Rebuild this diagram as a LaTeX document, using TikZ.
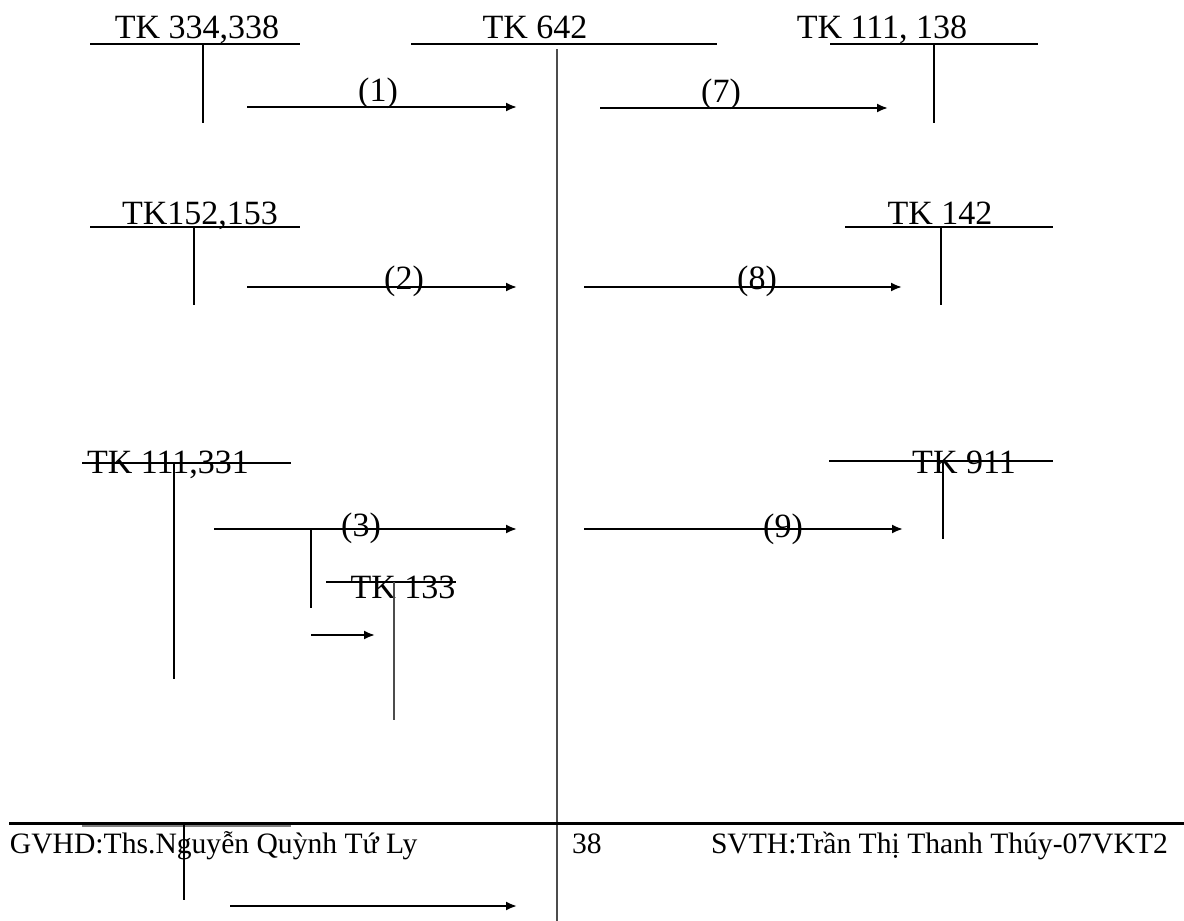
\documentclass[tikz,border=0pt]{standalone}
\usepackage{fontspec}
\setmainfont{Liberation Serif}
\usepackage{tikz}
\usetikzlibrary{arrows.meta}

\begin{document}
\begin{tikzpicture}[x=0.5pt, y=-0.5pt, line width=1pt, >={Latex[length=5.5pt,width=4.5pt]},
    acct/.style={font=\fontsize{17}{20}\selectfont, inner sep=0pt, anchor=base},
    num/.style={font=\fontsize{17}{20}\selectfont, inner sep=0pt, anchor=base},
    foot/.style={font=\fontsize{14.8}{18}\selectfont, inner sep=0pt, anchor=base west}]
    \useasboundingbox (0,0) rectangle (1184,921);
    % account names
    \node[acct] (tk334) at (197,39) {TK 334,338};
    \node[acct] (tk642) at (535,39) {TK 642};
    \node[acct] (tk111a) at (882,39) {TK 111, 138};
    \node[acct] (tk152) at (200,224) {TK152,153};
    \node[acct] (tk142) at (940,224) {TK 142};
    \node[acct] (tk111b) at (168,473) {TK 111,331};
    \node[acct] (tk133) at (403,598) {TK 133};
    \node[acct] (tk911) at (964,473) {TK 911};
    % T lines
    \draw (90,44) -- (300,44) (203,44) -- (203,123);
    \draw (411,44) -- (717,44);
    \draw[gray!60!black] (557,49) -- (557,921);
    \draw (830,44) -- (1038,44) (934,44) -- (934,123);
    \draw (90,227) -- (300,227) (194,227) -- (194,305);
    \draw (845,227) -- (1053,227) (941,227) -- (941,305);
    \draw (82,463) -- (291,463) (174,463) -- (174,679);
    \draw (311,529) -- (311,608);
    \draw (326,582) -- (456,582);
    \draw[gray!60!black] (394,582) -- (394,720);
    \draw (829,461) -- (1053,461) (943,461) -- (943,539);
    % arrow ends
    \coordinate (s1) at (247,107); \coordinate (e1) at (517,107);
    \coordinate (s7) at (600,108); \coordinate (e7) at (888,108);
    \coordinate (s2) at (247,287); \coordinate (e2) at (517,287);
    \coordinate (s8) at (584,287); \coordinate (e8) at (902,287);
    \coordinate (s3) at (214,529); \coordinate (e3) at (517,529);
    \coordinate (s9) at (584,529); \coordinate (e9) at (903,529);
    \coordinate (sv) at (311,635); \coordinate (ev) at (375,635);
    \coordinate (sb) at (230,906); \coordinate (eb) at (517,906);
    \path[->]
      (s1) edge (e1)
      (s7) edge (e7)
      (s2) edge (e2)
      (s8) edge (e8)
      (s3) edge (e3)
      (s9) edge (e9)
      (sv) edge (ev)
      (sb) edge (eb);
    % entry numbers
    \node[num] (n1) at (378,101) {(1)};
    \node[num] (n7) at (721,102) {(7)};
    \node[num] (n2) at (404,289) {(2)};
    \node[num] (n8) at (757,289) {(8)};
    \node[num] (n3) at (361,536) {(3)};
    \node[num] (n9) at (783,537) {(9)};
    % page footer
    \draw[gray, line width=1.5pt] (82,825) -- (291,825);
    \draw[line width=1.5pt] (9,823) -- (1184,823);
    \draw (184,823) -- (184,900);
    \node[foot] (gvhd) at (9,853) {GVHD:Ths.Nguyễn Quỳnh Tứ Ly};
    \node[foot] (page) at (571,853) {38};
    \node[foot] (svth) at (710,853) {SVTH:Trần Thị Thanh Thúy-07VKT2};
\end{tikzpicture}
\end{document}
